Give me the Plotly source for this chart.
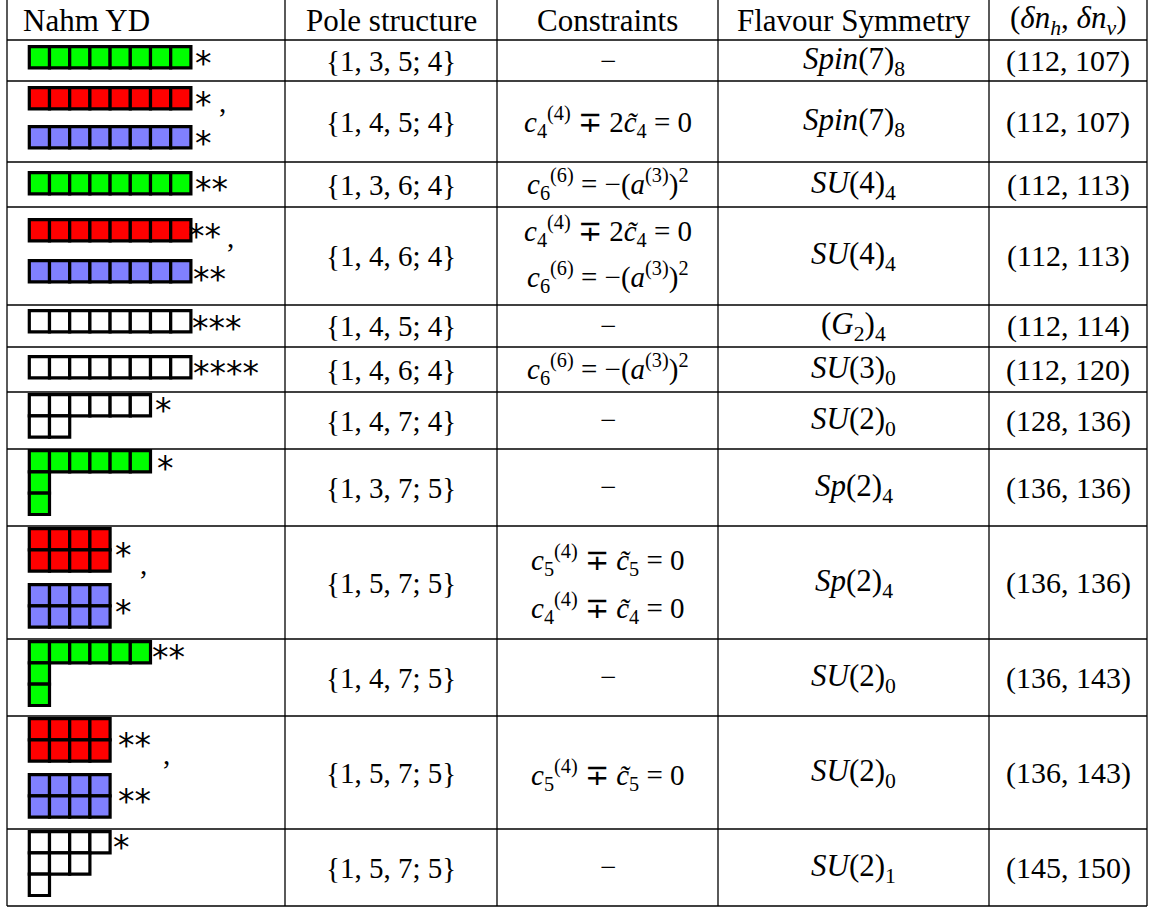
import plotly.graph_objects as go

# ---------------- data ----------------
headers = ["Nahm YD", "Pole structure", "Constraints", "Flavour Symmetry",
           "(<i>δn</i><sub><i>h</i></sub>, <i>δn</i><sub><i>v</i></sub>)"]

yd_shapes = [[8], [8], [8], [8], [8], [8], [6, 2], [6, 1, 1], [4, 4], [6, 1, 1], [4, 4], [4, 3, 1]]
yd_fills = [["green"], ["red", "blue"], ["green"], ["red", "blue"], ["white"], ["white"],
            ["white"], ["green"], ["red", "blue"], ["green"], ["red", "blue"], ["white"]]
yd_stars = [1, 1, 2, 2, 3, 4, 1, 1, 1, 2, 2, 1]

pole_structure = ["{1, 3, 5; 4}", "{1, 4, 5; 4}", "{1, 3, 6; 4}", "{1, 4, 6; 4}",
                  "{1, 4, 5; 4}", "{1, 4, 6; 4}", "{1, 4, 7; 4}", "{1, 3, 7; 5}",
                  "{1, 5, 7; 5}", "{1, 4, 7; 5}", "{1, 5, 7; 5}", "{1, 5, 7; 5}"]

C4_2 = "<i>c</i><sub>4</sub><sup>(4)</sup> ∓ 2<i>c̃</i><sub>4</sub> = 0"
C6 = "<i>c</i><sub>6</sub><sup>(6)</sup> = −(<i>a</i><sup>(3)</sup>)<sup>2</sup>"
C5_1 = "<i>c</i><sub>5</sub><sup>(4)</sup> ∓ <i>c̃</i><sub>5</sub> = 0"
C4_1 = "<i>c</i><sub>4</sub><sup>(4)</sup> ∓ <i>c̃</i><sub>4</sub> = 0"
DASH = "−"
constraints = [[DASH], [C4_2], [C6], [C4_2, C6], [DASH], [C6], [DASH], [DASH],
               [C5_1, C4_1], [DASH], [C5_1], [DASH]]

flavour = ["<i>Spin</i>(7)<sub>8</sub>", "<i>Spin</i>(7)<sub>8</sub>", "<i>SU</i>(4)<sub>4</sub>",
           "<i>SU</i>(4)<sub>4</sub>", "(<i>G</i><sub>2</sub>)<sub>4</sub>", "<i>SU</i>(3)<sub>0</sub>",
           "<i>SU</i>(2)<sub>0</sub>", "<i>Sp</i>(2)<sub>4</sub>", "<i>Sp</i>(2)<sub>4</sub>",
           "<i>SU</i>(2)<sub>0</sub>", "<i>SU</i>(2)<sub>0</sub>", "<i>SU</i>(2)<sub>1</sub>"]

delta_nh = [112, 112, 112, 112, 112, 112, 128, 136, 136, 136, 136, 145]
delta_nv = [107, 107, 113, 113, 114, 120, 136, 136, 136, 143, 143, 150]

# ---------------- layout (positions / styles) ----------------
W, H = 1152, 909
X_COLS = [7, 285, 497, 718, 989, 1147]
Y_ROWS = [40, 81, 162, 207, 305, 347, 392, 449, 526, 639, 716, 829, 906]
HEADER_Y = 20
FONT = "Liberation Serif"
FS_HEAD, FS_POLE, FS_CONS, FS_FLAV, FS_DN = 31, 29, 29, 31, 30
COLORS = {"green": "#00FF00", "red": "#FF0000", "blue": "#8080FF", "white": "#FFFFFF"}

YD_X0 = 29.3
CW, CH = 20.2, 21.3
diag_tops = [[45], [86, 125], [171], [218, 259], [309], [355], [393], [449],
             [527, 583], [640], [717, 773], [830]]
star_left = [[194], [194, 194], [194], [187, 192], [191], [192], [154], [156],
             [114, 114], [151], [117, 117], [112]]
star_y = [[56], [97, 136], [182], [229, 272], [321], [366], [403], [461],
          [548, 605], [650], [738, 794], [840]]
STAR_FONT, STAR_FS, STAR_DY = "DejaVu Sans", 33, 7.5
commas = {1: (222, 110), 3: (230, 245), 8: (143, 572), 10: (166, 762)}
cons_y = [[60.5], [122], [184], [231, 277], [326], [369], [420], [487],
          [560, 608], [677], [775], [867]]

fig = go.Figure()
fig.add_trace(go.Scatter(x=[0, W], y=[0, H], mode="markers",
                         marker=dict(opacity=0), hoverinfo="skip"))

shapes = []
for xc in X_COLS:
    shapes.append(dict(type="line", xref="x", yref="y", x0=xc, x1=xc, y0=0, y1=Y_ROWS[-1],
                       line=dict(color="black", width=1.3)))
for yr in Y_ROWS:
    shapes.append(dict(type="line", xref="x", yref="y", x0=X_COLS[0], x1=X_COLS[-1], y0=yr, y1=yr,
                       line=dict(color="black", width=1.3)))

# Young diagrams
for i, shp in enumerate(yd_shapes):
    for d, fill in enumerate(yd_fills[i]):
        top = diag_tops[i][d] + 1.6
        for r, n in enumerate(shp):
            for c in range(n):
                shapes.append(dict(type="rect", xref="x", yref="y",
                                   x0=YD_X0 + c * CW, x1=YD_X0 + (c + 1) * CW,
                                   y0=top + r * CH, y1=top + (r + 1) * CH,
                                   fillcolor=COLORS[fill], line=dict(color="black", width=3.2)))

ann = []
def text(x, y, s, anchor="center", size=29, font=FONT):
    ann.append(dict(x=x, y=y, xref="x", yref="y", text=s, showarrow=False,
                    xanchor=anchor, yanchor="middle", borderpad=0,
                    font=dict(family=font, size=size, color="black")))

# stars & commas
for i, ns in enumerate(yd_stars):
    for d, sy in enumerate(star_y[i]):
        text(star_left[i][d], sy + STAR_DY, "*" * ns, anchor="left", size=STAR_FS, font=STAR_FONT)
for i, (cx, cy) in commas.items():
    text(cx, cy - 8, ",", size=29)

# headers
text(22, HEADER_Y, headers[0], anchor="left", size=FS_HEAD)
for j in range(1, 5):
    text((X_COLS[j] + X_COLS[j + 1]) / 2, HEADER_Y, headers[j], size=FS_HEAD)

for i in range(len(pole_structure)):
    yc = (Y_ROWS[i] + Y_ROWS[i + 1]) / 2
    text((X_COLS[1] + X_COLS[2]) / 2, yc, pole_structure[i], size=FS_POLE)
    for k, line in enumerate(constraints[i]):
        text((X_COLS[2] + X_COLS[3]) / 2, cons_y[i][k], line, size=FS_CONS)
    text((X_COLS[3] + X_COLS[4]) / 2, yc, flavour[i], size=FS_FLAV)
    text((X_COLS[4] + X_COLS[5]) / 2, yc, f"({delta_nh[i]}, {delta_nv[i]})", size=FS_DN)

fig.update_layout(width=W, height=H, margin=dict(l=0, r=0, t=0, b=0),
                  paper_bgcolor="white", plot_bgcolor="white", showlegend=False,
                  xaxis=dict(range=[0, W], visible=False, fixedrange=True),
                  yaxis=dict(range=[H, 0], visible=False, fixedrange=True),
                  shapes=shapes, annotations=ann)

fig.write_html("out.html", config={"displayModeBar": False},
               post_script="document.body.style.margin='0';document.body.style.overflow='hidden';")
